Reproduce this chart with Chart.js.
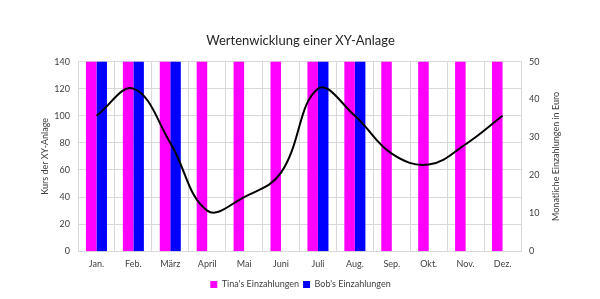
<!DOCTYPE html>
<html><head><meta charset="utf-8">
<script src="https://cdn.jsdelivr.net/npm/chart.js@4.4.0/dist/chart.umd.min.js"></script>
<style>html,body{margin:0;padding:0;background:#fff}#w{width:600px;height:299px}</style>
</head><body><div id="w"><canvas id="c"></canvas></div>
<script>
const months = ["Jan.","Feb.","März","April","Mai","Juni","Juli","Aug.","Sep.","Okt.","Nov.","Dez."];
const kurs = [100,120,80,30,40,58,120,100,72,64,79,100];
const tina = [50,50,50,50,50,50,50,50,50,50,50,50];
const bob = [50,50,50,null,null,null,50,50,null,null,null,null];
const rightTitle = 'Monatliche Einzahlungen in Euro';
const FONT = "Lato, 'Open Sans', sans-serif";
Chart.defaults.font.family = FONT;
Chart.defaults.color = "#404040";
const rightTitlePlugin = {
  id:'rightTitle',
  afterDraw(chart){
    const s = chart.scales.y1, ctx = chart.ctx;
    ctx.save();
    ctx.font = '9px ' + FONT;
    ctx.fillStyle = '#404040';
    ctx.textAlign = 'center';
    ctx.textBaseline = 'middle';
    ctx.translate(s.right - 9, (s.top + s.bottom)/2);
    ctx.rotate(-Math.PI/2);
    ctx.fillText(rightTitle, 0, 0);
    ctx.restore();
  }
};
new Chart(document.getElementById('c'), {
  data: {
    labels: months,
    datasets: [
      {type:'line', label:'Kurs', data:kurs, yAxisID:'y', borderColor:'#000', borderWidth:2, pointRadius:0, tension:0.4, cubicInterpolationMode:'default', order:0},
      {type:'bar', label:"Tina's Einzahlungen", data:tina, yAxisID:'y1', backgroundColor:'#ff00ff', categoryPercentage:0.57, barPercentage:1, order:1},
      {type:'bar', label:"Bob's Einzahlungen", data:bob, yAxisID:'y1', backgroundColor:'#0000ff', categoryPercentage:0.57, barPercentage:1, order:1}
    ]
  },
  plugins:[rightTitlePlugin],
  options: {
    responsive:true, maintainAspectRatio:false, animation:false,
    layout:{padding:{left:36,right:35,top:0,bottom:0}},
    plugins:{
      title:{display:true, text:'Wertenwicklung einer XY-Anlage', color:'#262626', font:{size:13, weight:'normal', family:FONT}, padding:{top:33,bottom:13}},
      legend:{position:'bottom', labels:{boxWidth:7, boxHeight:7, font:{size:9}, color:'#404040', padding:4,
        filter:(it)=>it.datasetIndex!==0}},
      tooltip:{enabled:false}
    },
    scales:{
      x:{grid:{color:'#d9d9d9', offset:true, drawTicks:false}, border:{color:'#d9d9d9'}, ticks:{font:{size:9}, color:'#404040', padding:7}},
      y:{position:'left', min:0, max:140, ticks:{stepSize:20, font:{size:9}, color:'#404040', padding:8},
        grid:{color:'#d9d9d9', drawTicks:false}, border:{color:'#d9d9d9'},
        title:{display:true, text:'Kurs der XY-Anlage', font:{size:9}, color:'#404040'},
        afterFit:(s)=>{s.width=42;}},
      y1:{position:'right', min:0, max:50, ticks:{stepSize:10, font:{size:9}, color:'#404040', padding:8},
        grid:{display:false, drawTicks:false}, border:{color:'#d9d9d9'},
        title:{display:false},
        afterFit:(s)=>{s.width=44;}}
    }
  }
});
</script></body></html>
